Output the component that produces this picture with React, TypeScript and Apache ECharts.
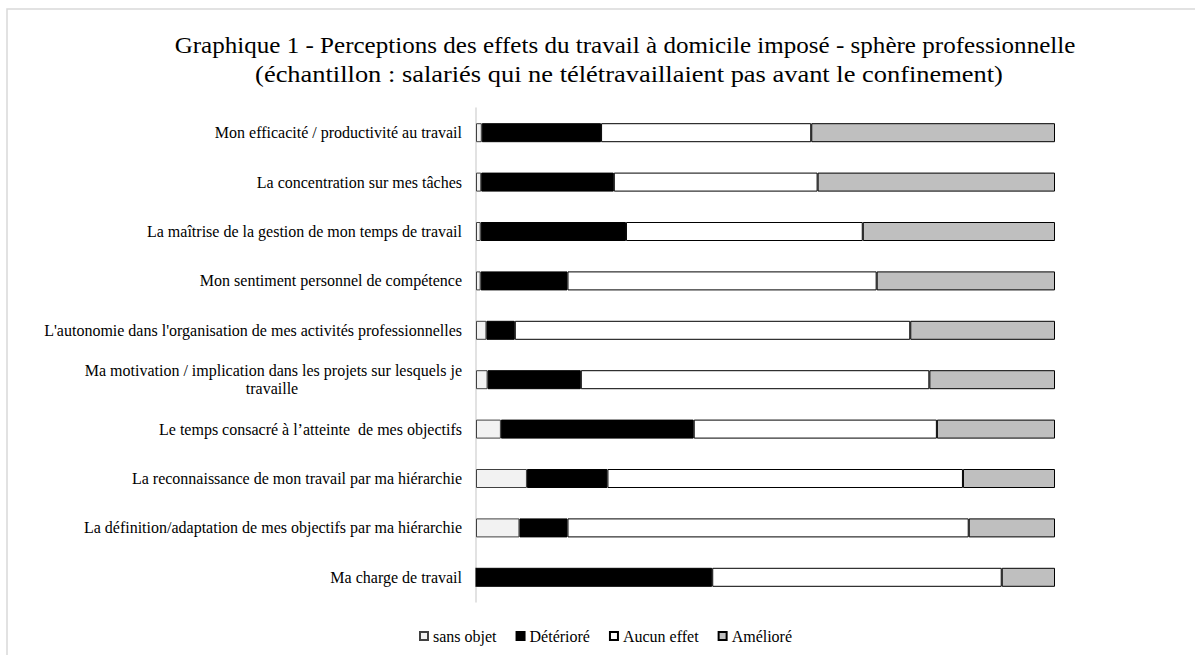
import React, { useEffect, useRef } from "react";
import * as echarts from "echarts";

const categories = [
  "Mon efficacité / productivité au travail",
  "La concentration sur mes tâches",
  "La maîtrise de la gestion de mon temps de travail",
  "Mon sentiment personnel de compétence",
  "L'autonomie dans l'organisation de mes activités professionnelles",
  "Ma motivation / implication dans les projets sur lesquels je\ntravaille",
  "Le temps consacré à l’atteinte  de mes objectifs",
  "La reconnaissance de mon travail par ma hiérarchie",
  "La définition/adaptation de mes objectifs par ma hiérarchie",
  "Ma charge de travail",
];

const sansObjet = [1.0, 0.9, 0.8, 0.8, 1.8, 2.0, 4.3, 8.8, 7.5, 0];
const deteriore = [20.6, 22.9, 25.1, 15.0, 4.9, 16.1, 33.3, 13.9, 8.3, 40.8];
const aucunEffet = [36.3, 35.2, 40.9, 53.4, 68.3, 60.2, 42.0, 61.4, 69.3, 50.0];
const ameliore = [42.1, 41.0, 33.2, 30.8, 25.0, 21.7, 20.4, 15.9, 14.9, 9.2];

const seriesNames = ["sans objet", "Détérioré", "Aucun effet", "Amélioré"];
const seriesColors = ["#f2f2f2", "#000000", "#ffffff", "#bfbfbf"];

const titleLine1 =
  "Graphique 1 - Perceptions des effets du travail à domicile imposé - sphère professionnelle";
const titleLine2 =
  "(échantillon : salariés qui ne télétravaillaient pas avant le confinement)";

const FONT = "Liberation Serif";

export default function App() {
  const ref = useRef<HTMLDivElement>(null);
  useEffect(() => {
    if (!ref.current) return;
    const chart = echarts.init(ref.current, undefined, { renderer: "svg" });
    const dataSets = [sansObjet, deteriore, aucunEffet, ameliore];
    chart.setOption({
      animation: false,
      backgroundColor: "#ffffff",
      graphic: [
        {
          type: "rect",
          z: -10,
          shape: { x: 7, y: 9, width: 1300, height: 800 },
          style: { fill: "none", stroke: "#d9d9d9", lineWidth: 1.5 },
          silent: true,
        },
        {
          type: "text",
          x: 625,
          y: 45,
          scaleX: 1.09,
          style: {
            text: titleLine1,
            fontFamily: FONT,
            fontSize: 23,
            fill: "#000000",
            align: "center",
            verticalAlign: "middle",
          },
        },
        {
          type: "text",
          x: 629,
          y: 74,
          scaleX: 1.15,
          style: {
            text: titleLine2,
            fontFamily: FONT,
            fontSize: 23,
            fill: "#000000",
            align: "center",
            verticalAlign: "middle",
          },
        },
      ],
      legend: {
        data: seriesNames,
        top: 623,
        left: 414,
        itemWidth: 8,
        itemHeight: 8,
        itemGap: 19,
        icon: "rect",
        textStyle: { fontFamily: FONT, fontSize: 16, color: "#000" },
      },
      grid: { left: 476, right: 140, top: 108, bottom: 53, containLabel: false },
      xAxis: {
        type: "value",
        min: 0,
        max: 100,
        show: false,
      },
      yAxis: {
        type: "category",
        data: categories,
        inverse: true,
        axisLine: { show: true, lineStyle: { color: "#d9d9d9", width: 1.5 } },
        axisTick: { show: false },
        axisLabel: {
          margin: 14,
          fontFamily: FONT,
          fontSize: 16,
          color: "#000",
          formatter: (v: string) => {
            if (v.indexOf("\n") >= 0) {
              const parts = v.split("\n");
              return `{a|${parts[0]}}\n{b|${parts[1]}}`;
            }
            return v;
          },
          rich: {
            a: { width: 380, align: "right", fontFamily: FONT, fontSize: 16, color: "#000", lineHeight: 18.5 },
            b: {
              width: 380,
              align: "center",
              fontFamily: FONT,
              fontSize: 16,
              color: "#000",
              lineHeight: 18.5,
            },
          },
        },
      },
      series: seriesNames.map((name, i) => ({
        name,
        type: "bar",
        stack: "total",
        barWidth: 19,
        data: dataSets[i],
        itemStyle: {
          color: seriesColors[i],
          borderColor: i === 0 ? "#404040" : "#000000",
          borderWidth: 1,
        },
      })),
    });
    return () => chart.dispose();
  }, []);
  return (
    <div
      ref={ref}
      style={{ position: "fixed", left: 0, top: 0, width: 1195, height: 655 }}
    />
  );
}
